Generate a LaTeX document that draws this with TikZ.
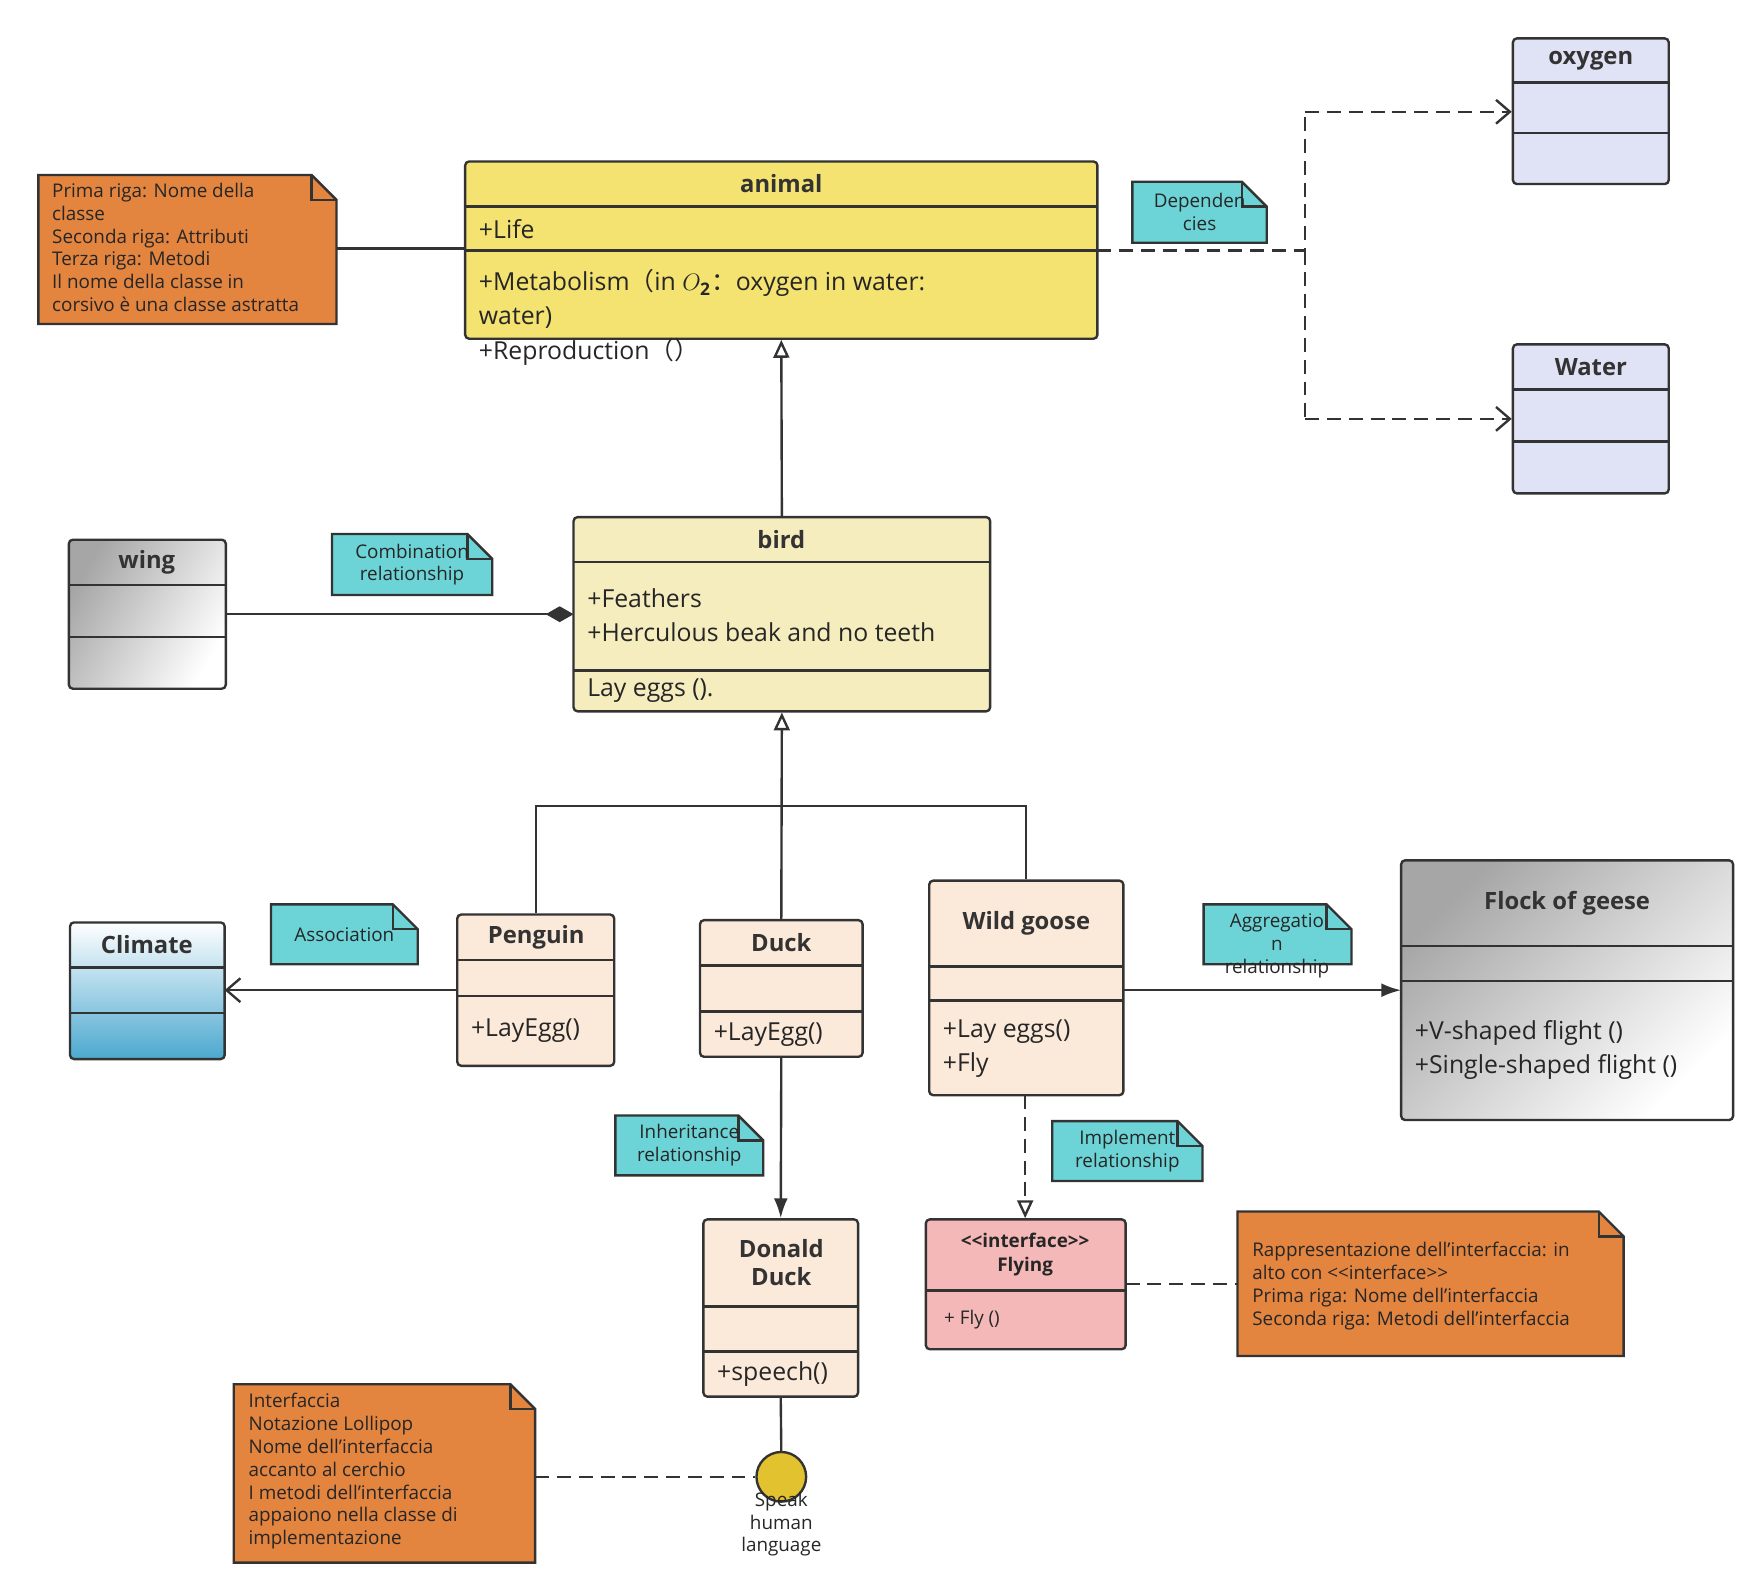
\documentclass[tikz,border=0pt]{standalone}
\usepackage{fontspec}
\setmainfont{Open Sans}
\newfontfamily\cjk{Noto Sans CJK SC}
\usetikzlibrary{fit,arrows.meta}

\tikzset{
  box/.style={draw=black!80, line width=1.2pt, rounded corners=2pt, inner sep=0pt},
  ttl/.style={font=\fontsize{12}{14}\selectfont\bfseries, text=black!80, align=center},
  txt/.style={font=\fontsize{12.5}{17}\selectfont, text=black!85, anchor=west, align=left},
  ntxt/.style={font=\fontsize{9.5}{11.5}\selectfont, text=black!85, align=left},
  link/.style={draw=black!80, line width=1.2pt},
  dep/.style={link, dashed, dash pattern=on 7pt off 4pt},
  gen/.style={-{Triangle[open,length=9pt,width=8pt]}},
  opn/.style={-{Straight Barb[length=7pt,width=12pt]}},
}
\definecolor{anim}{HTML}{F4E371}
\definecolor{birdc}{HTML}{F5EDBE}
\definecolor{lilac}{HTML}{E0E2F5}
\definecolor{peach}{HTML}{FBE9D9}
\definecolor{teal}{HTML}{6CD4D6}
\definecolor{orng}{HTML}{E3843F}
\definecolor{pinkc}{HTML}{F4B8B8}
\definecolor{lolly}{HTML}{E2C22F}
\definecolor{sky}{HTML}{4BA8CF}

% box: name, x1, y1, x2, y2, fill options
\newcommand\umlbox[6]{\node[box, #6, fit={(#2,#3)(#4,#5)}] (#1) {};}
% note with folded corner: name, x1, y1, x2, y2, colour
\newcommand\umlnote[6]{%
  \draw[black!80, line width=1.2pt, fill=#6] (#2,#3) -- (#4-22,#3) -- (#4,#3+22) -- (#4,#5) -- (#2,#5) -- cycle;
  \draw[black!80, line width=1.2pt] (#4-22,#3) -- (#4-22,#3+22) -- (#4,#3+22);
  \coordinate (#1) at ({(#2+#4)/2},{(#3+#5)/2});}

\begin{document}
\begin{tikzpicture}[x=0.02cm, y=-0.02cm]
  \useasboundingbox (0,0) rectangle (1550,1401);

  % animal
  \umlbox{animal}{412}{143}{972}{300}{fill=anim}
  \draw[link] (412,183) -- (972,183) (412,222) -- (972,222);
  \node[ttl] (animalT) at (692,163) {animal};
  \node[txt] (life) at (418,203) {+Life};
  \node[txt] (meta) at (418,265) {+Metabolism{\cjk（}in $O_{\mathbf{2}}${\cjk：}oxygen in water:\\water)};
  \node[txt] (repro) at (418,312) {+Reproduction{\cjk（）}};

  % oxygen and water
  \umlbox{oxygen}{1340}{34}{1478}{163}{fill=lilac}
  \draw[link] (1340,73) -- (1478,73) (1340,118) -- (1478,118);
  \node[ttl] (oxygenT) at (1409,54) {oxygen};
  \umlbox{water}{1340}{305}{1478}{437}{fill=lilac}
  \draw[link] (1340,345) -- (1478,345) (1340,391) -- (1478,391);
  \node[ttl] (waterT) at (1409,325) {Water};

  \coordinate (depA) at (1156,222);
  \coordinate (depB) at (1156,99);
  \coordinate (depC) at (1156,371);
  \draw[dep] (972,222) -- (depA) -- (depB);
  \draw[dep] (depA) -- (depC);
  \draw[dep, opn] (depB) -- (oxygen.west |- depB);
  \draw[dep, opn] (depC) -- (water.west |- depC);
  \umlnote{depN}{1003}{161}{1122}{215}{teal}
  \node[ntxt, align=center] at (depN) {Dependen\\cies};

  % class note
  \umlnote{clsN}{34}{155}{298}{287}{orng}
  \node[ntxt, anchor=north west] at (40,156) {Prima riga: Nome della\\classe\\Seconda riga: Attributi\\Terza riga: Metodi\\Il nome della classe in\\corsivo è una classe astratta};
  \draw[link] (298,220) -- (412,220);

  % bird
  \umlbox{bird}{508}{458}{877}{630}{fill=birdc}
  \draw[link] (508,498) -- (877,498) (508,594) -- (877,594);
  \node[ttl] (birdT) at (692,478) {bird};
  \node[txt] (feath) at (514,545) {+Feathers\\+Herculous beak and no teeth};
  \node[txt] (lay) at (514,612) {Lay eggs ().};
  \draw[link, gen] (bird.north) -- (animal.south);

  % wing
  \umlbox{wing}{61}{478}{200}{610}{left color=black!35, right color=white, shading angle=60}
  \draw[link] (61,518) -- (200,518) (61,564) -- (200,564);
  \node[ttl] (wingT) at (130,498) {wing};
  \draw[link, -{Diamond[length=14pt,width=8pt]}] (200,544) -- (508,544);
  \umlnote{cmbN}{294}{473}{436}{527}{teal}
  \node[ntxt, align=center] at (cmbN) {Combination\\relationship};

  % penguin, duck, wild goose
  \umlbox{penguin}{405}{810}{544}{944}{fill=peach}
  \draw[link] (405,850) -- (544,850) (405,882) -- (544,882);
  \node[ttl] (penguinT) at (475,830) {Penguin};
  \node[txt] at (411,913) {+LayEgg()};
  \umlbox{duck}{620}{815}{764}{936}{fill=peach}
  \draw[link] (620,855) -- (764,855) (620,896) -- (764,896);
  \node[ttl] (duckT) at (692,835) {Duck};
  \node[txt] at (626,916) {+LayEgg()};
  \umlbox{goose}{823}{780}{995}{970}{fill=peach}
  \draw[link] (823,856) -- (995,856) (823,886) -- (995,886);
  \node[ttl] (gooseT) at (909,818) {Wild goose};
  \node[txt] at (829,929) {+Lay eggs()\\+Fly};

  \coordinate (jn) at (692,714);
  \draw[link] (penguin.north) |- (jn) -| (goose.north);
  \draw[link, gen] (duck.north) -- (bird.south);

  % climate
  \umlbox{climate}{62}{817}{199}{938}{top color=white, bottom color=sky}
  \draw[link] (62,857) -- (199,857) (62,897) -- (199,897);
  \node[ttl] (climateT) at (130,837) {Climate};
  \draw[link, opn] (405,877) -- (199,877);
  \umlnote{assN}{240}{801}{370}{854}{teal}
  \node[ntxt] at (assN) {Association};

  % flock
  \umlbox{flock}{1241}{762}{1535}{992}{left color=black!35, right color=white, shading angle=45}
  \draw[link] (1241,838) -- (1535,838) (1241,869) -- (1535,869);
  \node[ttl] (flockT) at (1388,800) {Flock of geese};
  \node[txt] at (1247,930) {+V-shaped flight ()\\+Single-shaped flight ()};
  \draw[link, -{Latex[length=10pt,width=7pt]}] (995,877) -- (1241,877);
  \umlnote{aggN}{1066}{801}{1197}{854}{teal}
  \node[ntxt, align=center] at (1131,838) {Aggregatio\\n\\relationship};

  % donald duck
  \umlbox{donald}{623}{1080}{760}{1237}{fill=peach}
  \draw[link] (623,1157) -- (760,1157) (623,1197) -- (760,1197);
  \node[ttl] (donaldT) at (692,1118) {Donald\\Duck};
  \node[txt] at (629,1217) {+speech()};
  \draw[link, -{Latex[length=10pt,width=7pt]}] (duck.south) -- (donald.north);
  \umlnote{inhN}{545}{988}{676}{1041}{teal}
  \node[ntxt, align=center] at (inhN) {Inheritance\\relationship};

  % flying
  \umlbox{flying}{820}{1080}{997}{1195}{fill=pinkc}
  \draw[link] (820,1143) -- (997,1143);
  \node[ntxt, font=\fontsize{9.5}{12}\selectfont\bfseries, align=center] (flyingT) at (908,1111) {{<}{<}interface{>}{>}\\Flying};
  \node[ntxt, anchor=west] at (830,1169) {+ Fly ()};
  \draw[dep, gen] (908,970) -- (flying.north -| 908,0);
  \umlnote{impN}{932}{993}{1065}{1046}{teal}
  \node[ntxt, align=center] at (impN) {Implement\\relationship};

  \umlnote{ifcN}{1096}{1073}{1438}{1201}{orng}
  \node[ntxt, anchor=north west] at (1103,1094) {Rappresentazione dell'interfaccia: in\\alto con {<}{<}interface{>}{>}\\Prima riga: Nome dell'interfaccia\\Seconda riga: Metodi dell'interfaccia};
  \draw[dep] (997,1137) -- (1096,1137);

  % lollipop
  \node[circle, draw=black!80, line width=1.2pt, fill=lolly, minimum size=0.88cm, inner sep=0pt] (speak) at (692,1308) {};
  \node[ntxt, align=center] (speakL) at (692,1350) {Speak\\human\\language};
  \draw[link] (donald.south) -- (speak.north);
  \umlnote{lolN}{207}{1226}{474}{1384}{orng}
  \node[ntxt, anchor=north west] at (214,1228) {Interfaccia\\Notazione Lollipop\\Nome dell'interfaccia\\accanto al cerchio\\I metodi dell'interfaccia\\appaiono nella classe di\\implementazione};
  \draw[dep] (474,1308) -- (speak.west);
\end{tikzpicture}
\end{document}
